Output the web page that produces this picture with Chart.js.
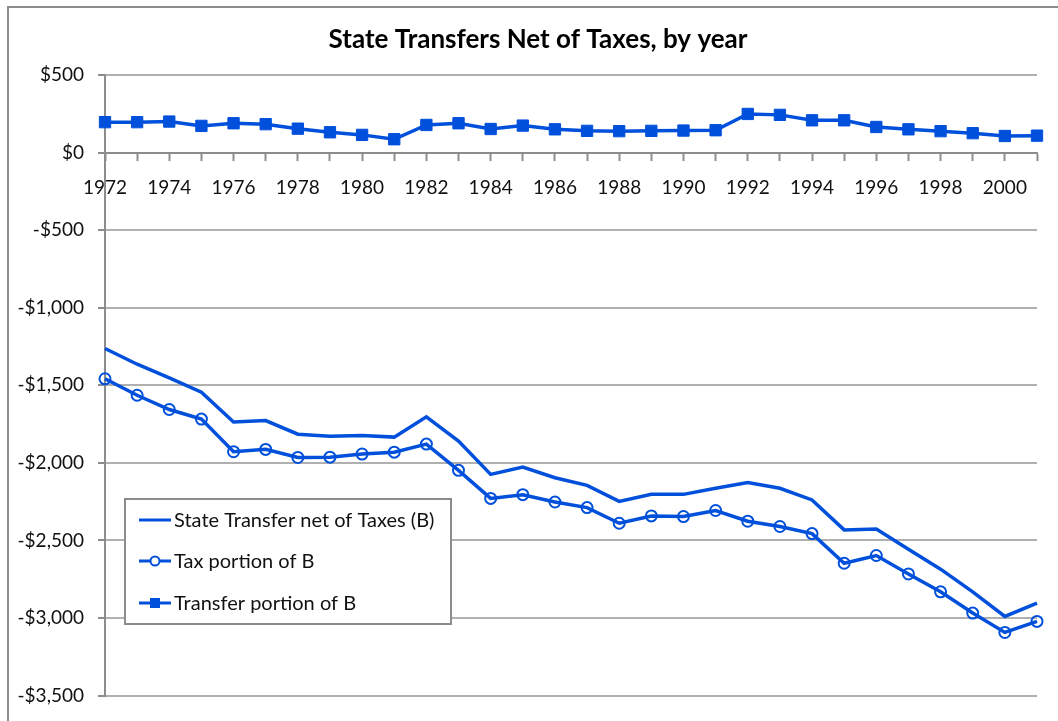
<!DOCTYPE html>
<html>
<head>
<meta charset="utf-8">
<script src="https://cdn.jsdelivr.net/npm/chart.js@4"></script>
<style>
  html, body { margin: 0; padding: 0; background: #fff; }
  #wrap { position: relative; width: 1058px; height: 721px; }
  #frame { position: absolute; left: 7px; top: 6px; width: 1060px; height: 720px;
           border-left: 2px solid #8c8c8c; border-top: 2px solid #8c8c8c; }
  canvas { position: absolute; left: 0; top: 0; }
</style>
</head>
<body>
<div id="wrap">
  <div id="frame"></div>
  <canvas id="chart" width="1058" height="721"></canvas>
</div>
<script>
// 年（1972〜2001）
const years = ['1972','1973','1974','1975','1976','1977','1978','1979','1980','1981',
  '1982','1983','1984','1985','1986','1987','1988','1989','1990','1991',
  '1992','1993','1994','1995','1996','1997','1998','1999','2000','2001'];

// State Transfer net of Taxes (B)
const netValues = [-1263, -1364, -1452, -1544, -1737, -1727, -1815, -1828, -1823, -1834,
  -1703, -1860, -2074, -2027, -2096, -2145, -2248, -2203, -2203, -2164,
  -2126, -2164, -2239, -2432, -2426, -2557, -2685, -2831, -2990, -2904];

// Tax portion of B
const taxValues = [-1458, -1564, -1656, -1718, -1928, -1913, -1965, -1963, -1943, -1931,
  -1879, -2048, -2229, -2205, -2252, -2288, -2389, -2342, -2346, -2307,
  -2376, -2410, -2456, -2647, -2597, -2716, -2831, -2968, -3093, -3022];

// Transfer portion of B
const transferValues = [196, 196, 200, 172, 189, 183, 154, 131, 114, 86,
  178, 189, 152, 174, 150, 140, 138, 140, 142, 144,
  249, 243, 208, 208, 165, 150, 138, 125, 107, 109];

const yTicks = [500, 0, -500, -1000, -1500, -2000, -2500, -3000, -3500];

const titleText = 'State Transfers Net of Taxes, by year';
const blue = '#0050dc';
const fontFamily = 'Lato, "Open Sans", sans-serif';

function money(v) {
  const s = '$' + Math.abs(v).toLocaleString('en-US');
  return v < 0 ? '-' + s : s;
}

// タイトル描画
const titlePlugin = {
  id: 'customTitle',
  afterDraw(chart) {
    const ctx = chart.ctx;
    ctx.save();
    ctx.font = 'bold 26px ' + fontFamily;
    ctx.fillStyle = '#000';
    ctx.textAlign = 'center';
    ctx.textBaseline = 'middle';
    ctx.fillText(titleText, 538, 40);
    ctx.restore();
  }
};

// 凡例（プロット内の白い箱）
const legendPlugin = {
  id: 'boxLegend',
  afterDatasetsDraw(chart) {
    const ctx = chart.ctx;
    const box = { x: 125, y: 499, w: 326, h: 125 };
    const rows = [520, 561, 603];
    ctx.save();
    ctx.fillStyle = '#fff';
    ctx.fillRect(box.x, box.y, box.w, box.h);
    ctx.strokeStyle = '#8c8c8c';
    ctx.lineWidth = 2;
    ctx.strokeRect(box.x, box.y, box.w, box.h);

    chart.data.datasets.forEach((ds, i) => {
      const y = rows[i];
      ctx.strokeStyle = ds.borderColor;
      ctx.lineWidth = 3;
      ctx.beginPath();
      ctx.moveTo(139, y);
      ctx.lineTo(171, y);
      ctx.stroke();
      if (ds.pointRadius > 0) {
        if (ds.pointStyle === 'rect') {
          ctx.fillStyle = ds.pointBackgroundColor;
          ctx.fillRect(155 - 5, y - 5, 10, 10);
        } else {
          ctx.fillStyle = '#fff';
          ctx.lineWidth = 2;
          ctx.beginPath();
          ctx.arc(155, y, 4.5, 0, Math.PI * 2);
          ctx.fill();
          ctx.stroke();
        }
      }
      ctx.fillStyle = '#111';
      ctx.font = '20px ' + fontFamily;
      ctx.textAlign = 'left';
      ctx.textBaseline = 'middle';
      ctx.fillText(ds.label, 174, y + 1);
    });
    ctx.restore();
  }
};

new Chart(document.getElementById('chart'), {
  type: 'line',
  data: {
    labels: years,
    datasets: [
      {
        label: 'State Transfer net of Taxes (B)',
        data: netValues,
        borderColor: blue,
        borderWidth: 3.5,
        pointRadius: 0,
        tension: 0
      },
      {
        label: 'Tax portion of B',
        data: taxValues,
        borderColor: blue,
        borderWidth: 3.5,
        pointStyle: 'circle',
        pointRadius: 5.5,
        pointBorderWidth: 2,
        pointBackgroundColor: 'rgba(255,255,255,0)',
        pointBorderColor: blue,
        tension: 0
      },
      {
        label: 'Transfer portion of B',
        data: transferValues,
        borderColor: blue,
        borderWidth: 3.5,
        pointStyle: 'rect',
        pointRadius: 8,
        pointBorderWidth: 1,
        pointBackgroundColor: blue,
        pointBorderColor: blue,
        tension: 0
      }
    ]
  },
  options: {
    responsive: false,
    animation: false,
    devicePixelRatio: 1,
    layout: { padding: { left: 0, right: 21, top: 75, bottom: 24 } },
    plugins: {
      legend: { display: false },
      title: { display: false },
      tooltip: { enabled: false }
    },
    scales: {
      x: {
        type: 'category',
        position: { y: 0 },
        offset: false,
        grid: {
          display: true,
          drawOnChartArea: false,
          drawTicks: true,
          tickLength: 7,
          tickWidth: 2,
          tickColor: '#8c8c8c'
        },
        border: { display: true, color: '#8c8c8c', width: 2 },
        ticks: {
          autoSkip: false,
          maxRotation: 0,
          minRotation: 0,
          padding: 17,
          color: '#111',
          font: { family: fontFamily, size: 19 },
          callback: (val, i) => (i % 2 === 0 ? years[i] : '')
        }
      },
      y: {
        min: yTicks[yTicks.length - 1],
        max: yTicks[0],
        afterFit: (scale) => { scale.width = 105; },
        afterBuildTicks: (scale) => { scale.ticks = yTicks.map(v => ({ value: v })); },
        grid: {
          color: '#b0b0b0',
          lineWidth: 2,
          drawTicks: true,
          tickLength: 7,
          tickColor: '#8c8c8c'
        },
        border: { display: true, color: '#8c8c8c', width: 2 },
        ticks: {
          padding: 14,
          color: '#111',
          font: { family: fontFamily, size: 19 },
          callback: (v) => money(v)
        }
      }
    }
  },
  plugins: [legendPlugin, titlePlugin]
});
</script>
</body>
</html>
